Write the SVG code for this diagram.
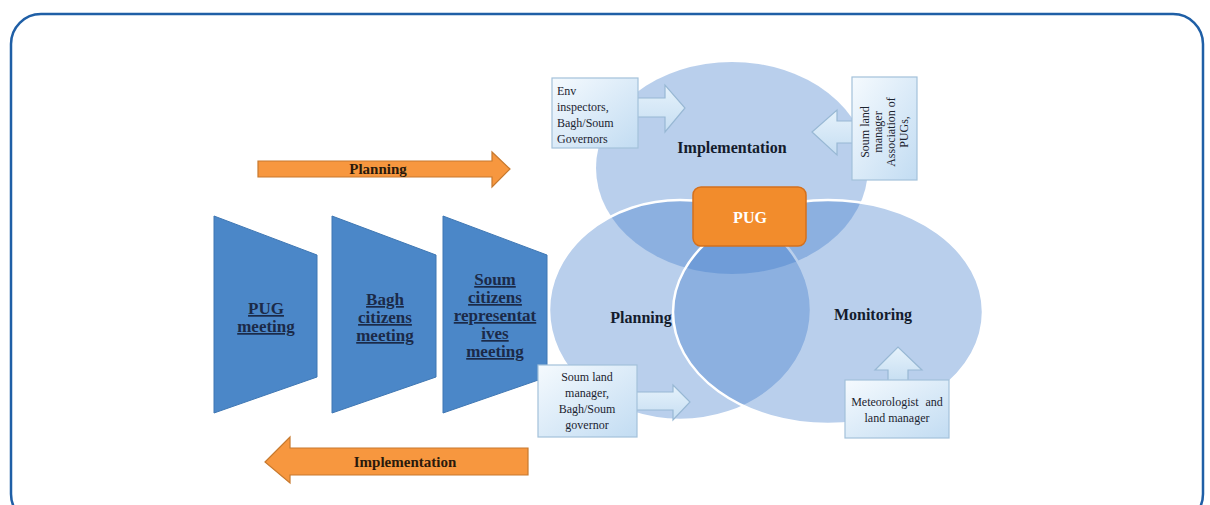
<svg xmlns="http://www.w3.org/2000/svg" width="1210" height="505" viewBox="0 0 1210 505">
<style>
.trap{fill:#4b87c8;stroke:#3f77b3;stroke-width:1}
.tt{font-family:"Liberation Serif",serif;font-weight:bold;font-size:17px;fill:#1b2a48;text-anchor:middle;text-decoration:underline}
.oarr{fill:#f7973f;stroke:#c7792e;stroke-width:1.2}
.ot{font-family:"Liberation Serif",serif;font-weight:bold;font-size:15px;fill:#2a1a0c;text-anchor:middle}
.ell{fill:#3d7aca;fill-opacity:0.36;stroke:#ffffff;stroke-width:2.5}
.lab{font-family:"Liberation Serif",serif;font-weight:bold;font-size:16px;fill:#141c2c;text-anchor:middle}
.box{fill:url(#cb);stroke:#a3c1da;stroke-width:1.2}
.barr{fill:url(#ca);stroke:#98b8d4;stroke-width:1.2}
.ct{font-family:"Liberation Serif",serif;font-size:12px;fill:#1c2430}
</style>
<defs>
<linearGradient id="cb" x1="0" y1="0" x2="1" y2="1">
<stop offset="0" stop-color="#f5fafe"/>
<stop offset="1" stop-color="#c2dcf2"/>
</linearGradient>
<linearGradient id="ca" x1="0" y1="0" x2="0" y2="1">
<stop offset="0" stop-color="#e6f2fb"/>
<stop offset="1" stop-color="#c6def2"/>
</linearGradient>
</defs>
<rect x="11" y="14" width="1192" height="510" rx="30" fill="#ffffff" stroke="#1f5fa6" stroke-width="2.5"/>

<g id="venn">
<ellipse cx="732" cy="168" rx="136" ry="106" fill="#3d7aca" fill-opacity="0.36"/>
<ellipse class="ell" cx="680" cy="310" rx="131" ry="110"/>
<ellipse class="ell" cx="828" cy="312" rx="155" ry="112"/>
</g>

<g id="node-pug-meeting">
<polygon class="trap" points="214,216 317,255 317,377 214,413"/>
<text class="tt" x="266" y="314">PUG</text>
<text class="tt" x="266" y="332">meeting</text>
</g>
<g id="node-bagh-meeting">
<polygon class="trap" points="332,216 436,255 436,377 332,413"/>
<text class="tt" x="385" y="305">Bagh</text>
<text class="tt" x="385" y="323">citizens</text>
<text class="tt" x="385" y="341">meeting</text>
</g>
<g id="node-soum-meeting">
<polygon class="trap" points="443,216 547,255 547,377 443,413"/>
<text class="tt" x="495" y="285">Soum</text>
<text class="tt" x="495" y="303">citizens</text>
<text class="tt" x="495" y="321">representat</text>
<text class="tt" x="495" y="339">ives</text>
<text class="tt" x="495" y="357">meeting</text>
</g>

<g id="connectors">
<path class="oarr" d="M258,161 H492 V152 L510,169 L492,187 V177 H258 Z"/>
<text class="ot" x="378" y="174">Planning</text>
<path class="oarr" d="M265,462 L290,437 V448 H528 V475 H290 V483 Z"/>
<text class="ot" x="405" y="467">Implementation</text>
<path class="barr" d="M636,98 H665 V85 L685,108 L665,132 V117 H636 Z"/>
<path class="barr" d="M854,121 H837 V110 L812,132 L837,155 V143 H854 Z"/>
<path class="barr" d="M635,392 H673 V385 L690,402 L673,420 V410 H635 Z"/>
<path class="barr" d="M888,382 V370 H875 L898,347 L922,370 H908 V382 Z"/>
</g>

<g id="node-implementation">
<text class="lab" x="732" y="153">Implementation</text>
</g>
<g id="node-planning">
<text class="lab" x="641" y="323">Planning</text>
</g>
<g id="node-monitoring">
<text class="lab" x="873" y="320">Monitoring</text>
</g>
<g id="node-pug">
<rect x="693" y="187" width="113" height="59" rx="8" fill="#f28c2c" stroke="#d4701c" stroke-width="1.5"/>
<text x="750" y="223" font-family="Liberation Serif, serif" font-weight="bold" font-size="16" fill="#ffffff" text-anchor="middle">PUG</text>
</g>

<g id="node-env-inspectors">
<rect class="box" x="552" y="78" width="86" height="70"/>
<text class="ct" x="557" y="95">Env</text>
<text class="ct" x="557" y="111">inspectors,</text>
<text class="ct" x="557" y="127">Bagh/Soum</text>
<text class="ct" x="557" y="143">Governors</text>
</g>
<g id="node-soum-land-manager-top">
<rect class="box" x="852" y="77" width="65" height="103"/>
<g class="ct" text-anchor="middle">
<text transform="translate(869,132) rotate(-90)">Soum land</text>
<text transform="translate(882,132) rotate(-90)">manager</text>
<text transform="translate(895,132) rotate(-90)">Association of</text>
<text transform="translate(908,132) rotate(-90)">PUGs,</text>
</g>
</g>
<g id="node-soum-land-manager-bottom">
<rect class="box" x="538" y="365" width="99" height="72"/>
<g class="ct" text-anchor="middle">
<text x="587" y="381">Soum land</text>
<text x="587" y="397">manager,</text>
<text x="587" y="413">Bagh/Soum</text>
<text x="587" y="429">governor</text>
</g>
</g>
<g id="node-meteorologist">
<rect class="box" x="845" y="380" width="104" height="58"/>
<g class="ct" text-anchor="middle">
<text x="897" y="406" word-spacing="4">Meteorologist and</text>
<text x="897" y="422">land manager</text>
</g>
</g>
</svg>
